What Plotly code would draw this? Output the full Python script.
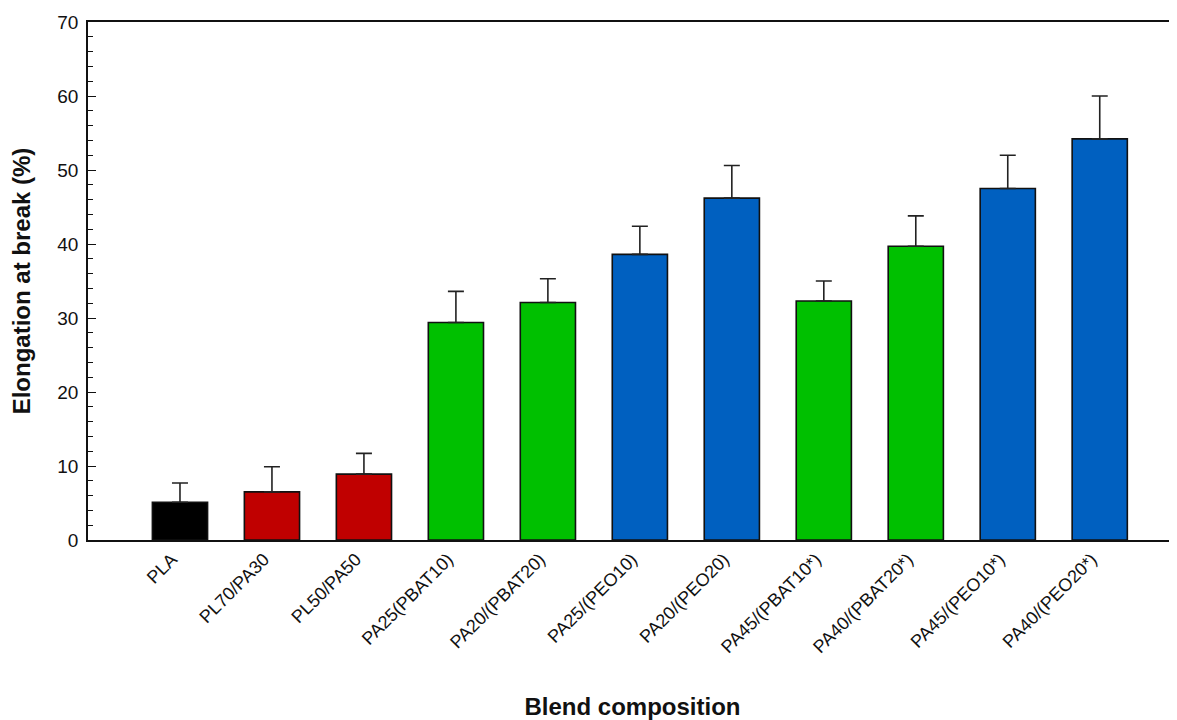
import plotly.graph_objects as go

categories = ["PLA", "PL70/PA30", "PL50/PA50", "PA25(PBAT10)", "PA20/(PBAT20)",
              "PA25/(PEO10)", "PA20/(PEO20)", "PA45/(PBAT10*)", "PA40/(PBAT20*)",
              "PA45/(PEO10*)", "PA40/(PEO20*)"]
elongation = [5.1, 6.5, 8.9, 29.4, 32.1, 38.6, 46.2, 32.3, 39.7, 47.5, 54.2]
error_up = [2.6, 3.4, 2.8, 4.2, 3.2, 3.8, 4.4, 2.7, 4.1, 4.5, 5.8]
bar_colors = ["#000000", "#C00000", "#C00000", "#00C000", "#00C000",
              "#0060C0", "#0060C0", "#00C000", "#00C000", "#0060C0", "#0060C0"]
y_ticks = [0, 10, 20, 30, 40, 50, 60, 70]

FONT = "Arial, Liberation Sans, sans-serif"

fig = go.Figure()
fig.add_trace(go.Bar(
    x=categories,
    y=elongation,
    width=0.6,
    marker=dict(color=bar_colors, line=dict(color="#111111", width=1.6)),
    error_y=dict(type="data", symmetric=False, array=error_up,
                 arrayminus=[0] * len(error_up),
                 color="#222222", thickness=1.6, width=8),
    showlegend=False,
))

fig.update_layout(
    width=1169, height=712,
    paper_bgcolor="white", plot_bgcolor="white",
    margin=dict(l=80, r=0, t=14, b=180),
    font=dict(family=FONT, color="#111111"),
)
fig.update_xaxes(
    type="category",
    range=[-1.0, 10.84],
    showline=True, linecolor="#111111", linewidth=1.6, mirror=True,
    ticks="", tickangle=-45, ticklabelshift=-8,
    tickfont=dict(size=18, family=FONT, color="#111111"),
    showgrid=False, zeroline=False,
    title=dict(text="<b>Blend composition</b>", font=dict(size=24, family=FONT, color="#111111"),
               standoff=43),
    automargin=False,
)
fig.update_yaxes(
    range=[0, 70],
    tickvals=y_ticks,
    showline=True, linecolor="#111111", linewidth=1.6, mirror=False,
    ticks="inside", ticklen=8, tickwidth=1.2, tickcolor="#111111",
    ticklabelstandoff=4,
    minor=dict(dtick=2, ticks="inside", ticklen=5, tickwidth=1.2, tickcolor="#111111", showgrid=False),
    tickfont=dict(size=19, family=FONT, color="#111111"),
    showgrid=False, zeroline=False,
    title=dict(text="<b>Elongation at break (%)</b>", font=dict(size=24, family=FONT, color="#111111"),
               standoff=20),
    automargin=False,
)

fig.write_html("out.html")
